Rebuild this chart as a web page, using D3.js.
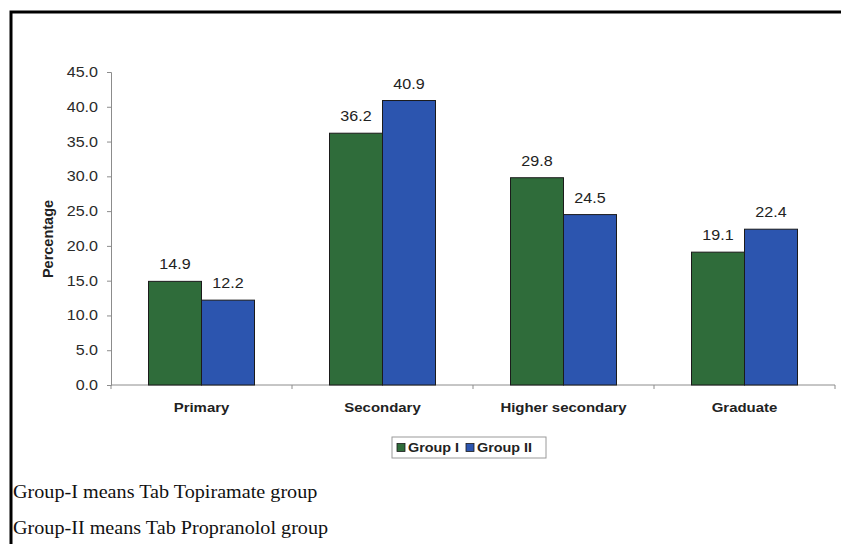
<!DOCTYPE html>
<html>
<head>
<meta charset="utf-8">
<script src="https://cdn.jsdelivr.net/npm/d3@7"></script>
<style>
  html, body { margin: 0; padding: 0; background: #fff; }
  svg { display: block; }
</style>
</head>
<body>
<svg id="chart" width="841" height="544"></svg>
<script>
// Education level distribution by treatment group
const categories = ["Primary", "Secondary", "Higher secondary", "Graduate"];
const groups = ["Group I", "Group II"];
const groupI = [14.9, 36.2, 29.8, 19.1];
const groupII = [12.2, 40.9, 24.5, 22.4];
const yTicks = [0, 5, 10, 15, 20, 25, 30, 35, 40, 45];
const notes = [
  "Group-I means Tab Topiramate group",
  "Group-II means Tab Propranolol group"
];

const colors = { "Group I": "#2f6c3a", "Group II": "#2c55af" };
const SX = 1.15; // horizontal widening applied to text

const rows = categories.map((c, i) => ({
  category: c,
  values: [
    { group: "Group I", value: groupI[i] },
    { group: "Group II", value: groupII[i] }
  ]
}));

const svg = d3.select("#chart");
const sans = "'Liberation Sans', Arial, sans-serif";

// helper for horizontally widened text
function label(parent, x, y, txt, opts) {
  const o = Object.assign({ size: 14, weight: "normal", anchor: "start", family: sans, fill: "#222", sx: SX }, opts || {});
  return parent.append("text")
    .attr("transform", `translate(${x},${y}) scale(${o.sx},1)`)
    .attr("text-anchor", o.anchor)
    .attr("font-family", o.family)
    .attr("font-size", o.size)
    .attr("font-weight", o.weight)
    .attr("fill", o.fill)
    .text(txt);
}

// outer frame (top and left edges)
svg.append("path")
  .attr("d", "M11,544 V12 H841")
  .attr("fill", "none")
  .attr("stroke", "#000")
  .attr("stroke-width", 3);

const plot = { left: 111, right: 835, top: 72, bottom: 385 };

const y = d3.scaleLinear().domain([0, 45]).range([plot.bottom, plot.top]);
const x0 = d3.scaleBand().domain(categories).range([plot.left, plot.right]).padding(0);
const bw = x0.bandwidth();
const barW = 53;
const x1 = d3.scaleBand().domain(groups).range([bw / 2 - barW, bw / 2 + barW]).padding(0);

// y axis
const yAxis = svg.append("g")
  .attr("transform", `translate(${plot.left},0)`)
  .call(d3.axisLeft(y).tickValues(yTicks).tickFormat(d3.format(".1f")).tickSize(4).tickPadding(9));
yAxis.select(".domain").attr("stroke", "#8c8c8c");
yAxis.selectAll(".tick line").attr("stroke", "#8c8c8c");
yAxis.selectAll(".tick text")
  .attr("font-family", sans)
  .attr("font-size", 14)
  .attr("fill", "#2a2a2a")
  .attr("x", -13 / SX)
  .attr("transform", `scale(${SX},1)`);

// x axis with ticks at category boundaries
const xAxis = svg.append("g").attr("transform", `translate(0,${plot.bottom})`);
xAxis.append("line")
  .attr("x1", plot.left).attr("x2", plot.right)
  .attr("y1", 0).attr("y2", 0)
  .attr("stroke", "#8c8c8c");
const bounds = categories.map(c => x0(c)).concat([x0(categories[categories.length - 1]) + bw]);
xAxis.selectAll("line.tk").data(bounds).join("line")
  .attr("class", "tk")
  .attr("x1", d => d).attr("x2", d => d)
  .attr("y1", 0).attr("y2", 4)
  .attr("stroke", "#8c8c8c");

categories.forEach(c => {
  label(svg, x0(c) + bw / 2, 412, c, { size: 13, weight: "bold", anchor: "middle" });
});

// bars
const cat = svg.append("g").selectAll("g").data(rows).join("g")
  .attr("transform", d => `translate(${x0(d.category)},0)`);

cat.selectAll("rect").data(d => d.values).join("rect")
  .attr("x", d => x1(d.group))
  .attr("y", d => y(d.value))
  .attr("width", x1.bandwidth())
  .attr("height", d => y(0) - y(d.value))
  .attr("fill", d => colors[d.group])
  .attr("stroke", "#1b1b1b")
  .attr("stroke-width", 1);

// value labels
rows.forEach(r => {
  r.values.forEach(v => {
    label(svg, x0(r.category) + x1(v.group) + x1.bandwidth() / 2, y(v.value) - 12,
      v.value.toFixed(1), { size: 14, anchor: "middle" });
  });
});

// y axis title
svg.append("text")
  .attr("transform", "translate(53,239) rotate(-90)")
  .attr("text-anchor", "middle")
  .attr("font-family", sans)
  .attr("font-size", 14.5)
  .attr("font-weight", "bold")
  .attr("fill", "#222")
  .text("Percentage");

// legend
const lg = svg.append("g").attr("transform", "translate(392,437)");
lg.append("rect")
  .attr("width", 154).attr("height", 21)
  .attr("fill", "#fff").attr("stroke", "#9a9a9a");
const legendX = [5, 74];
groups.forEach((g, i) => {
  lg.append("rect")
    .attr("x", legendX[i]).attr("y", 6.5)
    .attr("width", 8).attr("height", 8)
    .attr("fill", colors[g]).attr("stroke", "#1b1b1b").attr("stroke-width", 0.8);
  label(lg, legendX[i] + 11, 15, g, { size: 12.5, weight: "bold" });
});

// notes below the chart
notes.forEach((t, i) => {
  label(svg, 13, 498 + i * 36, t, {
    size: 18, family: "'Liberation Serif', 'Times New Roman', serif", fill: "#111", sx: 1.12
  });
});
</script>
</body>
</html>
